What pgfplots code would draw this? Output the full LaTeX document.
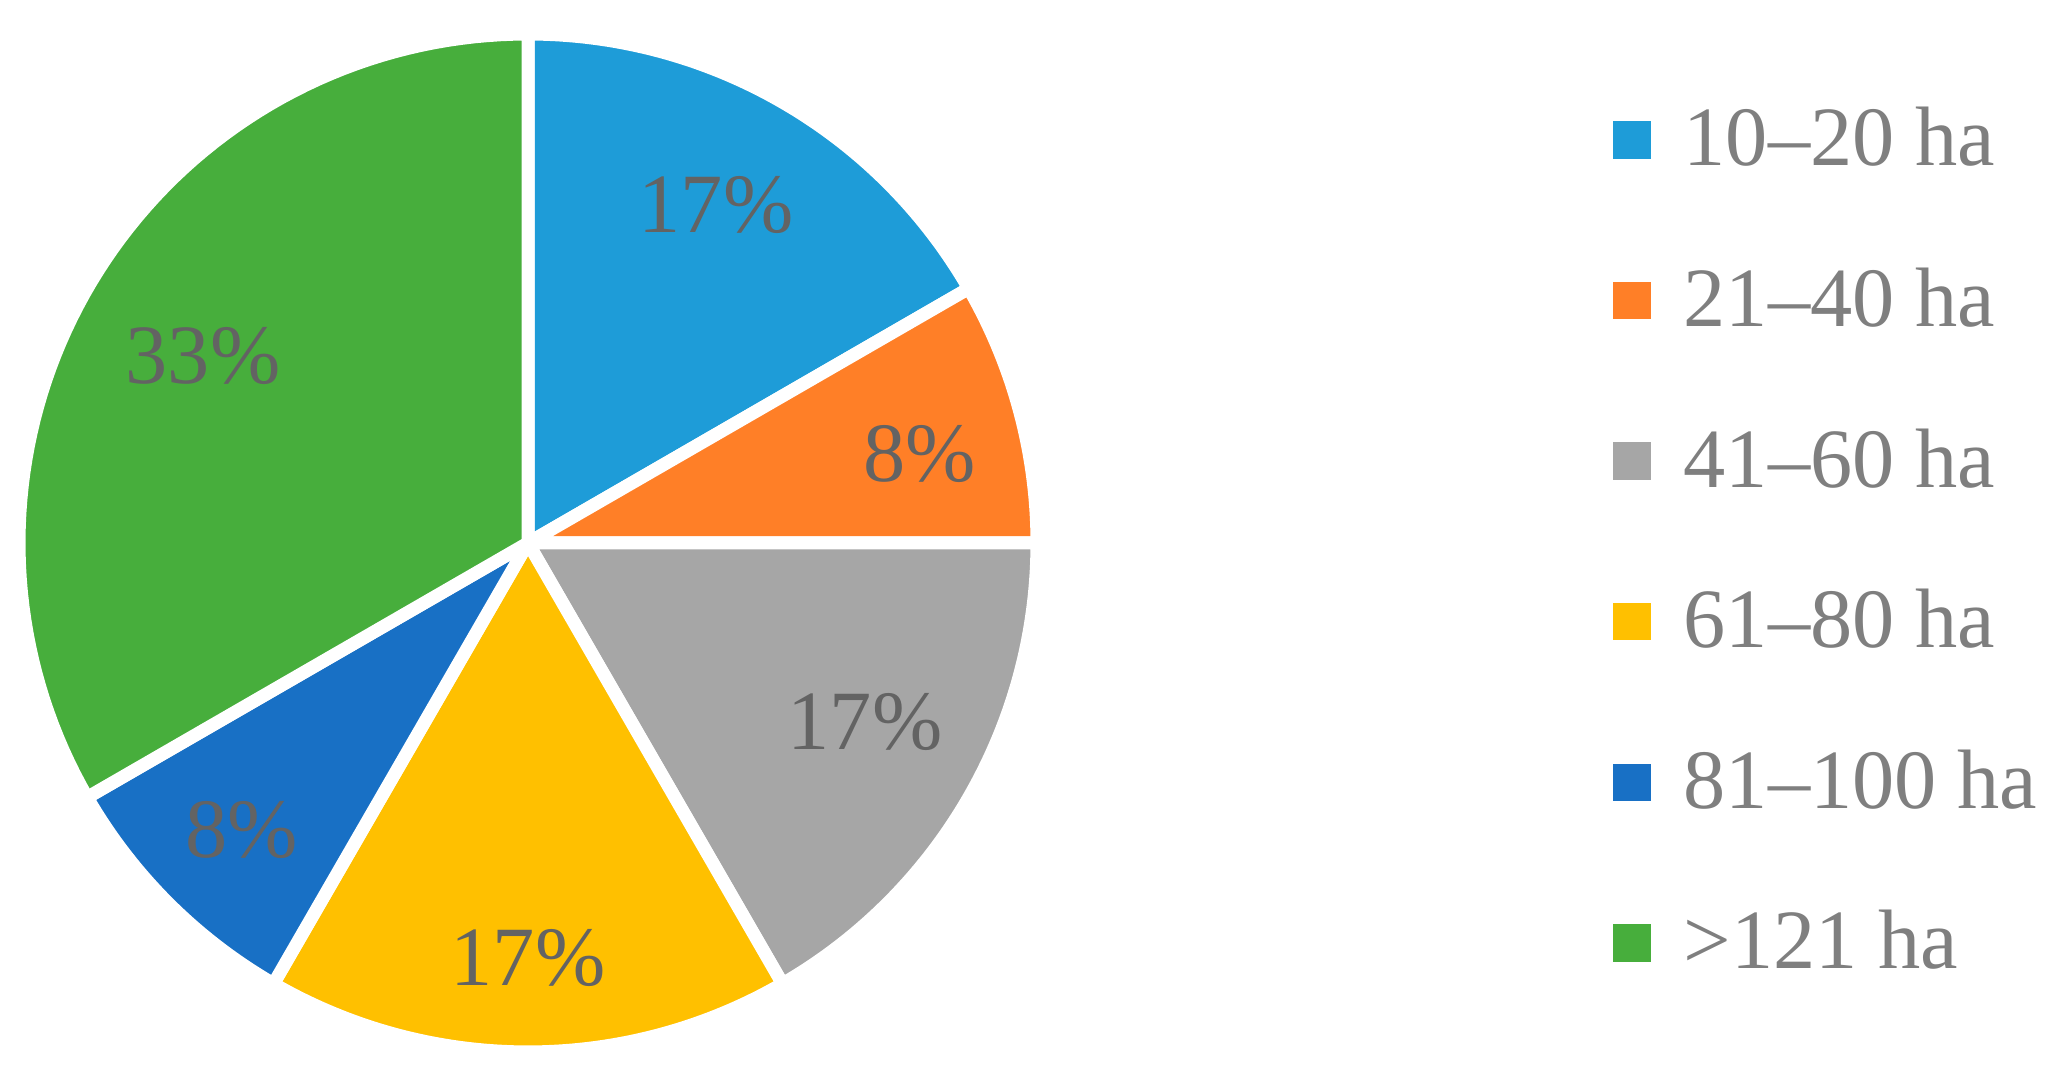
\documentclass[border=0pt]{standalone}
\usepackage{fontspec}
\setmainfont{Liberation Serif}
\usepackage{pgfplots}
\pgfplotsset{compat=1.18}

\definecolor{cA}{HTML}{1E9CD8}
\definecolor{cB}{HTML}{FF7F27}
\definecolor{cC}{HTML}{A6A6A6}
\definecolor{cD}{HTML}{FFC000}
\definecolor{cE}{HTML}{1870C5}
\definecolor{cF}{HTML}{47AE3C}
\definecolor{lbl}{HTML}{636363}
\definecolor{leg}{HTML}{7F7F7F}

\begin{document}
\begin{tikzpicture}
\begin{axis}[
    width=20.54cm, height=10.83cm,
    scale only axis,
    xmin=0, xmax=2054, ymin=0, ymax=1083,
    hide axis,
    clip=false,
    slice/.style={draw=white, line width=3.7pt, line join=round, samples=80},
]
% slices: 2,1,2,2,1,4 of 12 -> 60,30,60,60,30,120 degrees, clockwise from top
\addplot[slice, fill=cA, domain=30:90]    ({528+509*cos(x)},{540+509*sin(x)}) -- (528,540) -- cycle;
\addplot[slice, fill=cB, domain=0:30]     ({528+509*cos(x)},{540+509*sin(x)}) -- (528,540) -- cycle;
\addplot[slice, fill=cC, domain=-60:0]    ({528+509*cos(x)},{540+509*sin(x)}) -- (528,540) -- cycle;
\addplot[slice, fill=cD, domain=-120:-60] ({528+509*cos(x)},{540+509*sin(x)}) -- (528,540) -- cycle;
\addplot[slice, fill=cE, domain=-150:-120]({528+509*cos(x)},{540+509*sin(x)}) -- (528,540) -- cycle;
\addplot[slice, fill=cF, domain=-270:-150]({528+509*cos(x)},{540+509*sin(x)}) -- (528,540) -- cycle;

% percentage labels
\begin{scope}[every node/.style={font=\fontsize{24}{28}\selectfont, text=lbl}]
\node at (axis cs:716,878) {17\%};
\node at (axis cs:920,629) {8\%};
\node at (axis cs:865,361) {17\%};
\node at (axis cs:528,125) {17\%};
\node at (axis cs:242,253) {8\%};
\node at (axis cs:203,727) {33\%};
\end{scope}

% legend
\addplot[only marks, mark=square*, mark size=0.18cm, color=cA] coordinates {(1632,943)};
\addplot[only marks, mark=square*, mark size=0.18cm, color=cB] coordinates {(1632,782.4)};
\addplot[only marks, mark=square*, mark size=0.18cm, color=cC] coordinates {(1632,621.8)};
\addplot[only marks, mark=square*, mark size=0.18cm, color=cD] coordinates {(1632,461.2)};
\addplot[only marks, mark=square*, mark size=0.18cm, color=cE] coordinates {(1632,300.6)};
\addplot[only marks, mark=square*, mark size=0.18cm, color=cF] coordinates {(1632,140)};
\begin{scope}[every node/.style={font=\fontsize{24}{28}\selectfont, text=leg, anchor=base west, inner sep=0pt}]
\node at (axis cs:1683,917) {10–20 ha};
\node at (axis cs:1683,756.4) {21–40 ha};
\node at (axis cs:1683,595.8) {41–60 ha};
\node at (axis cs:1683,435.2) {61–80 ha};
\node at (axis cs:1683,274.6) {81–100 ha};
\node at (axis cs:1683,114) {>121 ha};
\end{scope}
\end{axis}
\pgfresetboundingbox
\path (0,0) rectangle (20.54cm,10.83cm);
\end{tikzpicture}
\end{document}
